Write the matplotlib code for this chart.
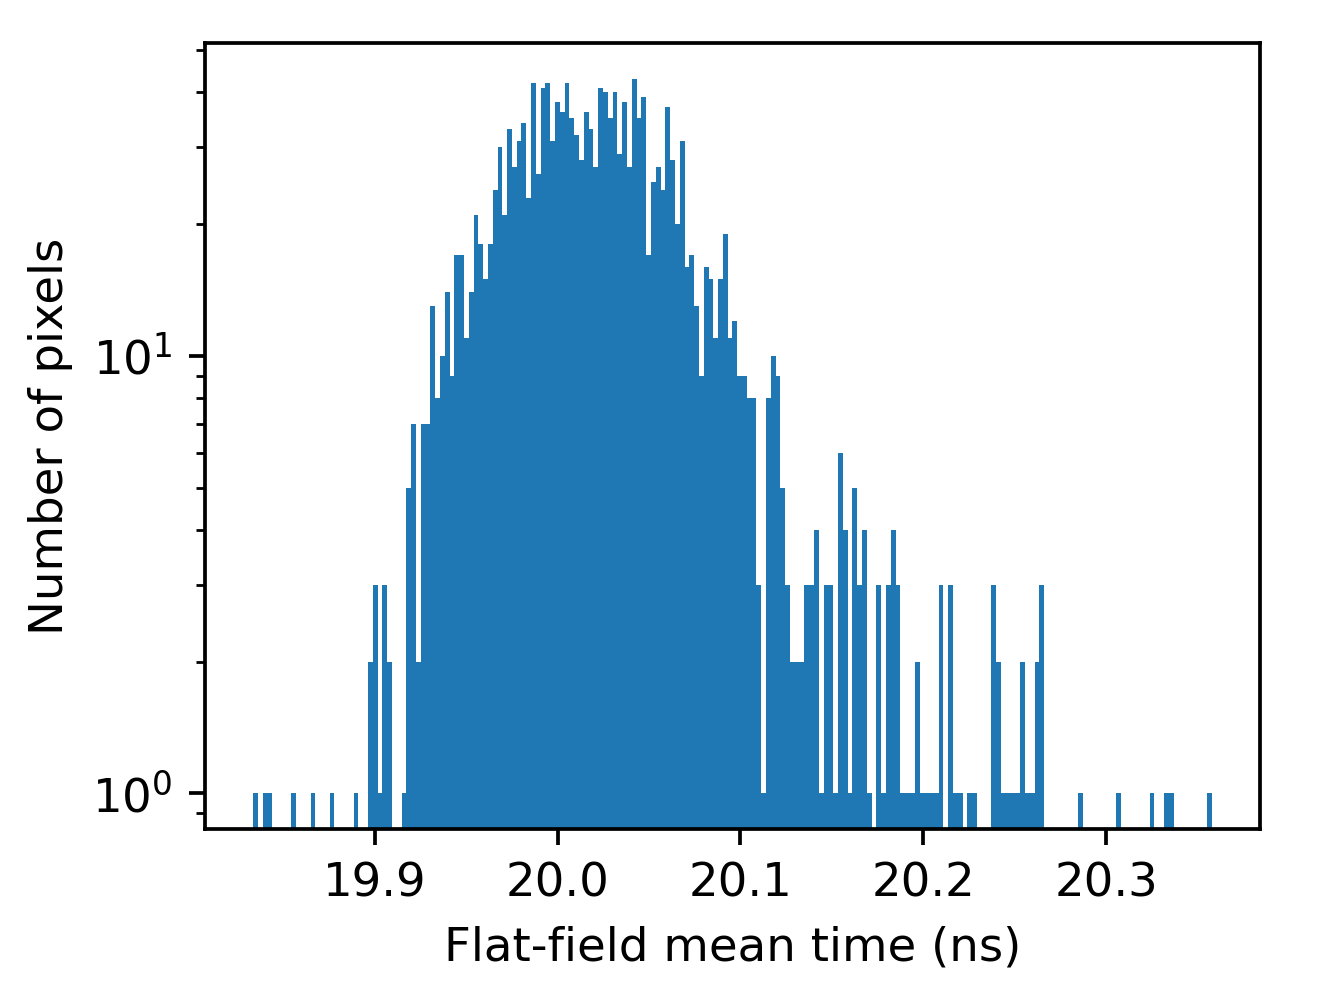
import numpy as np
import matplotlib
matplotlib.use("Agg")
import matplotlib.pyplot as plt

# Histogram range (ns) and number of bins
bin_lo = 19.8335
bin_hi = 20.3578
n_bins = 200

# Counts per bin
counts = [
    1, 0, 1, 1, 0, 0, 0, 0, 1, 0,            # 0-9
    0, 0, 1, 0, 0, 0, 1, 0, 0, 0,            # 10-19
    0, 1, 0, 0, 2, 3, 1, 3, 2, 0,            # 20-29
    0, 1, 5, 7, 2, 7, 7, 13, 8, 10,          # 30-39
    14, 9, 17, 17, 11, 14, 21, 18, 15, 18,   # 40-49
    24, 30, 21, 33, 27, 31, 34, 23, 42, 26,  # 50-59
    41, 42, 31, 38, 36, 42, 35, 32, 28, 36,  # 60-69
    33, 27, 41, 40, 35, 40, 29, 38, 27, 43,  # 70-79
    35, 39, 17, 25, 27, 24, 37, 28, 20, 31,  # 80-89
    16, 17, 13, 9, 16, 15, 11, 15, 19, 11,   # 90-99
    12, 9, 9, 8, 8, 3, 1, 8, 10, 9,          # 100-109
    5, 3, 2, 2, 2, 3, 3, 4, 1, 3,            # 110-119
    3, 1, 6, 4, 1, 5, 3, 4, 1, 0,            # 120-129
    3, 1, 3, 4, 3, 1, 1, 1, 2, 1,            # 130-139
    1, 1, 1, 3, 0, 3, 1, 1, 0, 1,            # 140-149
    1, 0, 0, 0, 3, 2, 1, 1, 1, 1,            # 150-159
    2, 1, 1, 2, 3, 0, 0, 0, 0, 0,            # 160-169
    0, 0, 1, 0, 0, 0, 0, 0, 0, 0,            # 170-179
    1, 0, 0, 0, 0, 0, 0, 1, 0, 0,            # 180-189
    1, 1, 0, 0, 0, 0, 0, 0, 0, 1,            # 190-199
]

x_label = "Flat-field mean time (ns)"
y_label = "Number of pixels"
x_ticks = [19.9, 20.0, 20.1, 20.2, 20.3]
x_ticklabels = ["19.9", "20.0", "20.1", "20.2", "20.3"]

s = 1.12
plt.rcParams.update({
    "font.size": 10 * s,
    "axes.linewidth": 0.8 * s,
    "xtick.major.size": 3.5 * s, "ytick.major.size": 3.5 * s,
    "xtick.minor.size": 2.0 * s, "ytick.minor.size": 2.0 * s,
    "xtick.major.width": 0.8 * s, "ytick.major.width": 0.8 * s,
    "xtick.minor.width": 0.6 * s, "ytick.minor.width": 0.6 * s,
    "xtick.major.pad": 3.5 * s, "ytick.major.pad": 3.5 * s,
    "axes.labelpad": 4.0 * s,
})

edges = np.linspace(bin_lo, bin_hi, n_bins + 1)
centers = 0.5 * (edges[:-1] + edges[1:])

fig = plt.figure(figsize=(1318 / 300, 991 / 300), dpi=300)
ax = fig.add_axes([205 / 1318, 1 - 829 / 991, (1260 - 205) / 1318, (829 - 43) / 991])
ax.hist(centers, bins=edges, weights=counts, log=True, color="#1f77b4")
ax.set_xlabel(x_label)
ax.set_ylabel(y_label)
ax.set_xticks(x_ticks)
ax.set_xticklabels(x_ticklabels)
fig.savefig("out.png", dpi=300)
